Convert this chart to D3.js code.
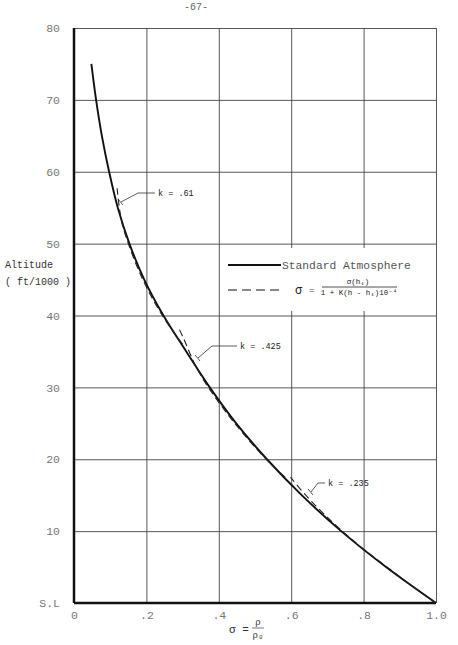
<!DOCTYPE html>
<html>
<head>
<meta charset="utf-8">
<script src="https://cdn.jsdelivr.net/npm/d3@7"></script>
<style>
  body { margin: 0; background: #fff; }
  text { font-family: "Liberation Mono", "DejaVu Sans Mono", monospace; }
</style>
</head>
<body>
<svg width="458" height="645"></svg>
<script>
// standard atmosphere curve, altitude in 1000 ft
var altitude = [0, 5, 10, 15, 20, 25, 30, 35, 40, 45, 50, 55, 60, 65, 70, 75];
var sigmaStd = [1.0, 0.862, 0.738, 0.629, 0.533, 0.448, 0.375, 0.310, 0.247, 0.194, 0.153, 0.121, 0.097, 0.077, 0.061, 0.048];

// approximation segments (dashed)
var dashA_alt = [0, 2.5, 5, 7.5, 10, 12.5, 15, 17.5];
var dashA_sigma = [1.0, 0.930, 0.865, 0.800, 0.741, 0.688, 0.640, 0.598];
var dashB_alt = [17.5, 20, 25, 30, 33, 35, 37, 38.5];
var dashB_sigma = [0.583, 0.531, 0.444, 0.371, 0.336, 0.318, 0.301, 0.287];
var dashC_alt = [36, 40, 45, 50, 53, 55.5, 57.7];
var dashC_sigma = [0.300, 0.244, 0.190, 0.150, 0.132, 0.124, 0.119];

var kLabels = ["k = .61", "k = .425", "k = .235"];

var xTicks = [0, 0.2, 0.4, 0.6, 0.8, 1.0];
var xLabels = ["0", ".2", ".4", ".6", ".8", "1.0"];
var yTicks = [0, 10, 20, 30, 40, 50, 60, 70, 80];
var yLabels = ["S.L", "10", "20", "30", "40", "50", "60", "70", "80"];

var svg = d3.select("svg");
var pLeft = 74, pRight = 436, pTop = 28, pBottom = 603;

var x = d3.scaleLinear().domain([0, 1]).range([pLeft, pRight]);
var y = d3.scaleLinear().domain([0, 80]).range([pBottom, pTop]);

// page number
svg.append("text").attr("x", 196).attr("y", 10)
    .attr("text-anchor", "middle").attr("font-size", "10px").attr("fill", "#666")
    .text("-67-");

// grid + tick labels
var gx = svg.append("g")
    .attr("transform", "translate(0," + pBottom + ")")
    .call(d3.axisBottom(x).tickValues(xTicks).tickSize(-(pBottom - pTop))
        .tickPadding(8).tickFormat(function (d, i) { return xLabels[i]; }));
var gy = svg.append("g")
    .attr("transform", "translate(" + pLeft + ",0)")
    .call(d3.axisLeft(y).tickValues(yTicks).tickSize(-(pRight - pLeft))
        .tickPadding(14).tickFormat(function (d, i) { return yLabels[i]; }));

[gx, gy].forEach(function (g) {
    g.select(".domain").remove();
    g.selectAll(".tick line").attr("stroke", "#444").attr("stroke-width", 0.9);
    g.selectAll(".tick text").attr("font-family", "Liberation Mono")
        .attr("font-size", "11.5px").attr("fill", "#777");
});

// thick left / bottom frame
svg.append("line").attr("x1", pLeft).attr("x2", pLeft).attr("y1", pTop).attr("y2", pBottom)
    .attr("stroke", "#111").attr("stroke-width", 2.5);
svg.append("line").attr("x1", pLeft).attr("x2", pRight).attr("y1", pBottom).attr("y2", pBottom)
    .attr("stroke", "#111").attr("stroke-width", 2.5);

// y title
svg.append("text").attr("x", 5).attr("y", 268).attr("font-size", "10px").attr("fill", "#333")
    .text("Altitude");
svg.append("text").attr("x", 5).attr("y", 285).attr("font-size", "10px").attr("fill", "#333")
    .text("( ft/1000 )");

// x title: sigma = rho / rho0
svg.append("text").attr("x", 229).attr("y", 633).attr("font-size", "11px").attr("fill", "#333")
    .attr("font-family", "DejaVu Serif").text("σ =");
svg.append("text").attr("x", 258).attr("y", 625).attr("font-size", "9px").attr("fill", "#333")
    .attr("text-anchor", "middle").attr("font-family", "DejaVu Serif").text("ρ");
svg.append("line").attr("x1", 252).attr("x2", 264).attr("y1", 628).attr("y2", 628)
    .attr("stroke", "#555").attr("stroke-width", 0.8);
svg.append("text").attr("x", 258).attr("y", 638).attr("font-size", "9px").attr("fill", "#333")
    .attr("text-anchor", "middle").attr("font-family", "DejaVu Serif").text("ρ₀");

// legend box
svg.append("rect").attr("x", 221).attr("y", 248).attr("width", 214).attr("height", 63)
    .attr("fill", "#fff");
svg.append("line").attr("x1", 228).attr("x2", 281).attr("y1", 265).attr("y2", 265)
    .attr("stroke", "#111").attr("stroke-width", 1.8);
svg.append("text").attr("x", 282).attr("y", 269).attr("font-size", "11.3px").attr("fill", "#555")
    .text("Standard Atmosphere");
svg.append("line").attr("x1", 228).attr("x2", 281).attr("y1", 290).attr("y2", 290)
    .attr("stroke", "#111").attr("stroke-width", 1.2).attr("stroke-dasharray", "9,5");
svg.append("text").attr("x", 295).attr("y", 294).attr("font-size", "12px").attr("fill", "#222")
    .attr("font-family", "DejaVu Serif").text("σ");
svg.append("text").attr("x", 309).attr("y", 293).attr("font-size", "9px").attr("fill", "#444")
    .text("=");
svg.append("text").attr("x", 358).attr("y", 284).attr("font-size", "7.5px").attr("fill", "#222")
    .attr("text-anchor", "middle").attr("font-family", "DejaVu Sans").text("σ(h₁)");
svg.append("line").attr("x1", 322).attr("x2", 397).attr("y1", 287).attr("y2", 287)
    .attr("stroke", "#222").attr("stroke-width", 0.8);
svg.append("text").attr("x", 359).attr("y", 295).attr("font-size", "7.5px").attr("fill", "#222")
    .attr("text-anchor", "middle").attr("font-family", "DejaVu Sans").text("1 + K(h - h₁)10⁻⁴");

// curves
var line = d3.line()
    .x(function (d) { return x(d[0]); })
    .y(function (d) { return y(d[1]); })
    .curve(d3.curveCatmullRom);

svg.append("path").datum(d3.zip(sigmaStd, altitude))
    .attr("d", line).attr("fill", "none").attr("stroke", "#111").attr("stroke-width", 1.9);

[[dashA_sigma, dashA_alt], [dashB_sigma, dashB_alt], [dashC_sigma, dashC_alt]].forEach(function (s) {
    svg.append("path").datum(d3.zip(s[0], s[1]))
        .attr("d", line).attr("fill", "none").attr("stroke", "#222")
        .attr("stroke-width", 1.1).attr("stroke-dasharray", "7,4");
});

// k annotations
var ann = [
    { tx: 158, ty: 193, hx: 138, ex: 121, ey: 202 },
    { tx: 240, ty: 346, hx: 212, ex: 198, ey: 358 },
    { tx: 328, ty: 483, hx: 318, ex: 311, ey: 492 }
];
ann.forEach(function (a, i) {
    svg.append("path")
        .attr("d", "M" + (a.tx - 3) + "," + a.ty + "L" + a.hx + "," + a.ty + "L" + a.ex + "," + a.ey)
        .attr("fill", "none").attr("stroke", "#333").attr("stroke-width", 0.8);
    svg.append("path")
        .attr("d", "M" + (a.ex - 3) + "," + (a.ey - 3) + "L" + (a.ex + 2) + "," + (a.ey + 3))
        .attr("stroke", "#333").attr("stroke-width", 0.8);
    svg.append("text").attr("x", a.tx).attr("y", a.ty + 3)
        .attr("font-size", "8.5px").attr("font-family", "DejaVu Sans").attr("fill", "#222")
        .text(kLabels[i]);
});
</script>
</body>
</html>
